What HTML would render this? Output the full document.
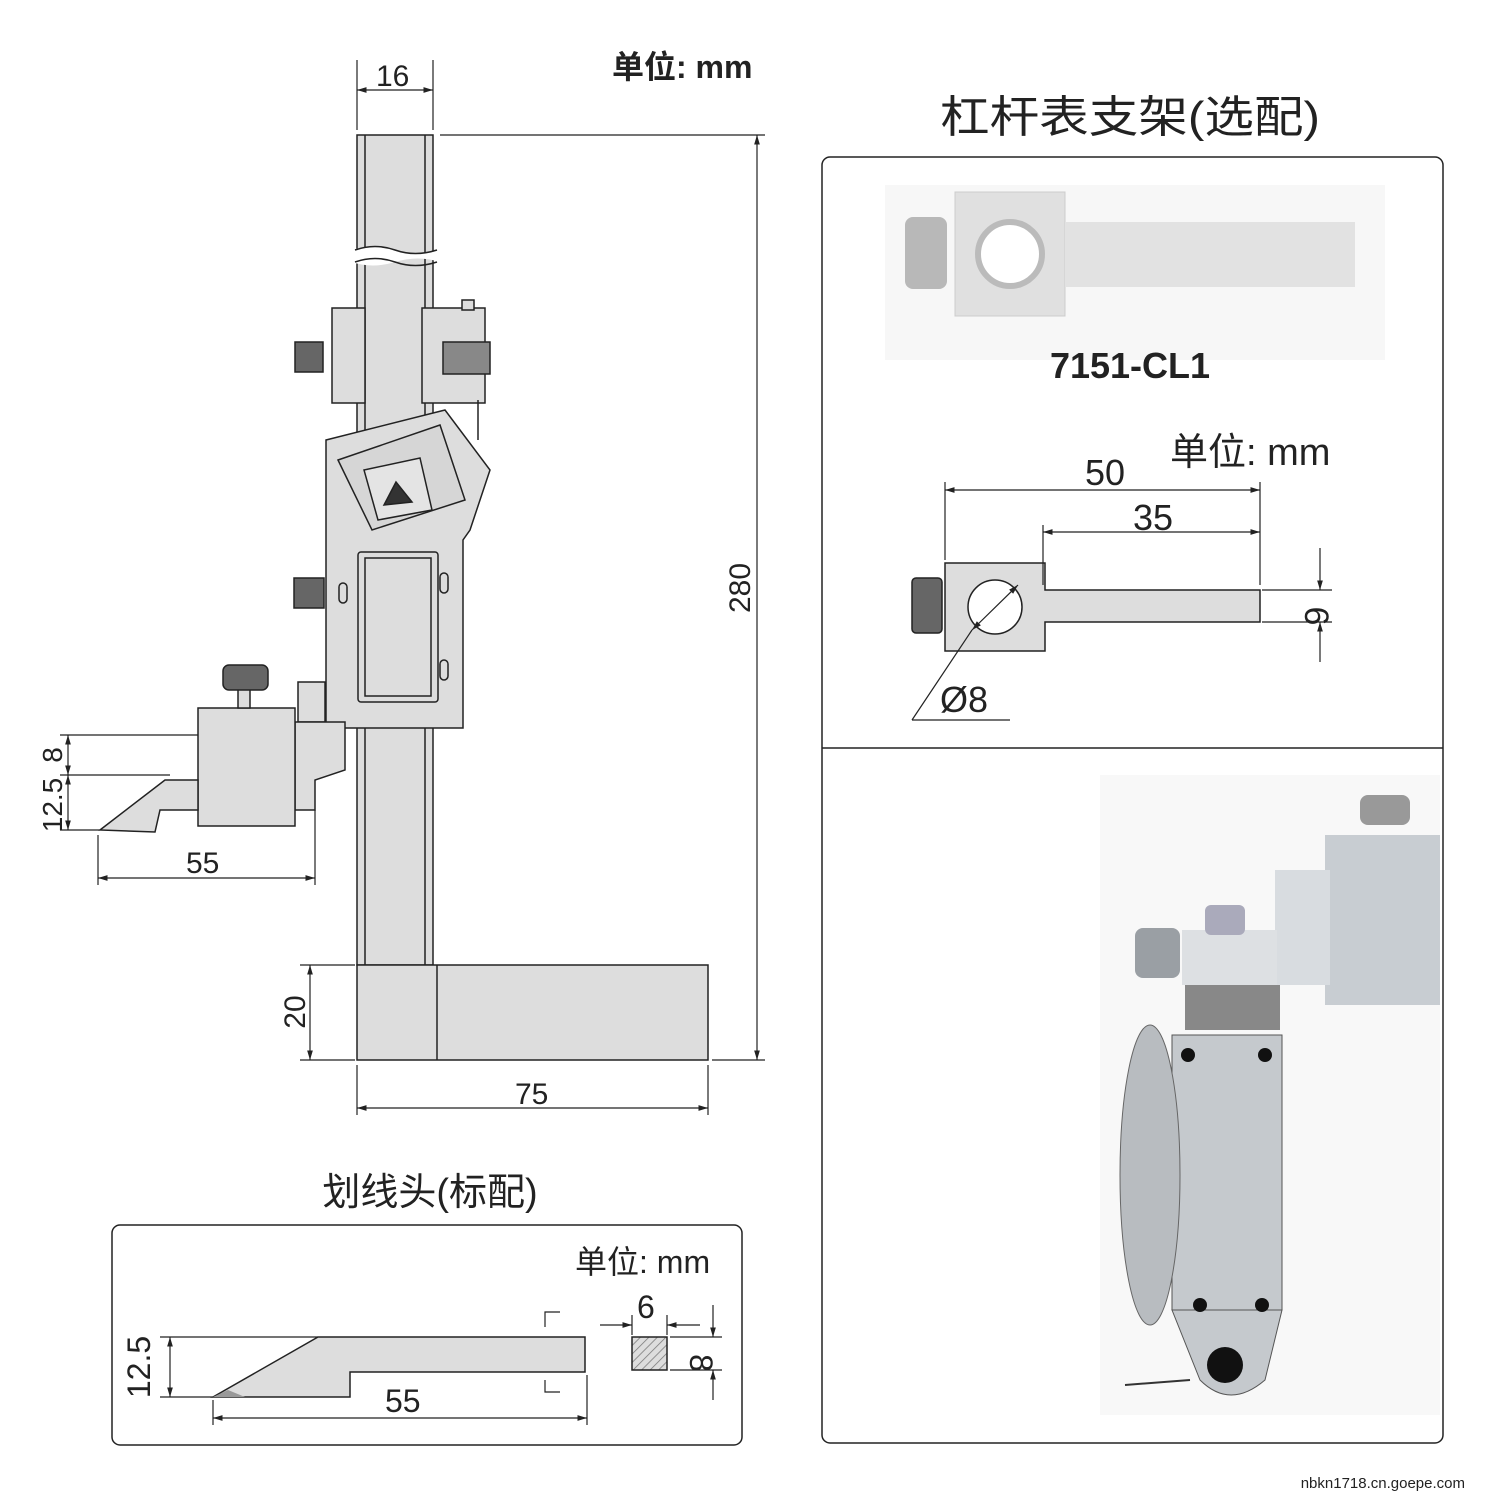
<!DOCTYPE html>
<html><head><meta charset="utf-8"><style>
body{margin:0;background:#fff}
svg{display:block}
text{font-family:"Liberation Sans","Noto Sans CJK SC",sans-serif;fill:#222}
</style></head><body>
<svg width="1500" height="1500" viewBox="0 0 1500 1500" xmlns="http://www.w3.org/2000/svg">
<defs>
<marker id="a" viewBox="0 0 10 10" refX="10" refY="5" markerWidth="8" markerHeight="8" orient="auto-start-reverse"><path d="M0,2 L10,5 L0,8z" fill="#222"/></marker>
<pattern id="h" width="6" height="6" patternUnits="userSpaceOnUse" patternTransform="rotate(45)"><rect width="6" height="6" fill="#ddd"/><line x1="0" y1="0" x2="0" y2="6" stroke="#777" stroke-width="1.5"/></pattern>
</defs>
<g stroke="#222" stroke-width="1.5" fill="#ddd">
<rect x="357" y="135" width="76" height="830"/>
<line x1="365" y1="135" x2="365" y2="965" fill="none"/>
<line x1="425" y1="135" x2="425" y2="965" fill="none"/>
<path d="M352,250 Q375,243 395,250 T440,250 L440,262 Q418,255 395,262 T352,262z" fill="#fff" stroke="none"/>
<path d="M355,250 Q375,243 395,250 T437,250" fill="none"/>
<path d="M355,262 Q375,255 395,262 T437,262" fill="none"/>
<rect x="357" y="965" width="351" height="95"/>
<line x1="437" y1="965" x2="437" y2="1060"/>
<rect x="332" y="308" width="33" height="95"/>
<rect x="422" y="308" width="63" height="95"/>
<rect x="462" y="300" width="12" height="10"/>
<rect x="295" y="342" width="28" height="30" fill="#666"/>
<rect x="443" y="342" width="47" height="32" fill="#888"/>
<line x1="478" y1="400" x2="478" y2="440"/>
<path d="M326,440 L445,410 L490,470 L470,530 L463,540 L463,728 L326,728z"/>
<path d="M338,460 L440,425 L465,500 L372,530z" fill="#d6d6d6"/>
<path d="M364,470 L420,458 L432,510 L378,520z" fill="#e4e4e4"/>
<path d="M384,505 L396,482 L412,502z" fill="#333"/>
<rect x="358" y="552" width="80" height="150" rx="3"/>
<rect x="365" y="558" width="66" height="138" fill="#ddd"/>
<rect x="339" y="583" width="8" height="20" rx="4"/>
<rect x="440" y="573" width="8" height="20" rx="4"/>
<rect x="440" y="660" width="8" height="20" rx="4"/>
<rect x="294" y="578" width="30" height="30" fill="#666"/>
<rect x="298" y="682" width="27" height="40"/>
<path d="M295,722 L345,722 L345,770 L315,780 L315,810 L295,810z"/>
<rect x="198" y="708" width="97" height="118"/>
<rect x="238" y="685" width="12" height="23"/>
<rect x="223" y="665" width="45" height="25" rx="6" fill="#666"/>
<path d="M198,780 L165,780 L100,830 L155,832 L160,810 L198,810z"/>
</g>
<g stroke="#222" stroke-width="1.2" fill="none">
<line x1="357" y1="60" x2="357" y2="130"/><line x1="433" y1="60" x2="433" y2="130"/>
<line x1="357" y1="90" x2="433" y2="90" marker-start="url(#a)" marker-end="url(#a)"/>
<line x1="440" y1="135" x2="765" y2="135"/><line x1="712" y1="1060" x2="765" y2="1060"/>
<line x1="757" y1="135" x2="757" y2="1060" marker-start="url(#a)" marker-end="url(#a)"/>
<line x1="300" y1="965" x2="355" y2="965"/><line x1="300" y1="1060" x2="355" y2="1060"/>
<line x1="310" y1="965" x2="310" y2="1060" marker-start="url(#a)" marker-end="url(#a)"/>
<line x1="357" y1="1065" x2="357" y2="1115"/><line x1="708" y1="1065" x2="708" y2="1115"/>
<line x1="357" y1="1108" x2="708" y2="1108" marker-start="url(#a)" marker-end="url(#a)"/>
<line x1="60" y1="735" x2="198" y2="735"/><line x1="60" y1="775" x2="170" y2="775"/><line x1="60" y1="830" x2="100" y2="830"/>
<line x1="68" y1="735" x2="68" y2="775" marker-start="url(#a)" marker-end="url(#a)"/>
<line x1="68" y1="775" x2="68" y2="830" marker-start="url(#a)" marker-end="url(#a)"/>
<line x1="98" y1="835" x2="98" y2="885"/><line x1="315" y1="810" x2="315" y2="885"/>
<line x1="98" y1="878" x2="315" y2="878" marker-start="url(#a)" marker-end="url(#a)"/>
</g>
<text x="612" y="78" font-size="32" font-weight="bold" fill="#333">单位: mm</text>
<text x="376" y="86" font-size="30">16</text>
<text x="760" y="598" font-size="30" transform="rotate(-90 750 598)" text-anchor="middle">280</text>
<text x="305" y="1012" font-size="30" transform="rotate(-90 305 1012)" text-anchor="middle">20</text>
<text x="515" y="1104" font-size="30">75</text>
<text x="186" y="873" font-size="30">55</text>
<text x="62" y="755" font-size="28" transform="rotate(-90 62 755)" text-anchor="middle">8</text>
<text x="62" y="805" font-size="28" transform="rotate(-90 62 805)" text-anchor="middle">12.5</text>
<text x="1130" y="132" font-size="44" text-anchor="middle" textLength="380" lengthAdjust="spacingAndGlyphs">杠杆表支架(选配)</text>
<rect x="822" y="157" width="621" height="1286" rx="8" fill="none" stroke="#222" stroke-width="1.5"/>
<line x1="822" y1="748" x2="1443" y2="748" stroke="#222" stroke-width="1.5"/>
<rect x="885" y="185" width="500" height="175" fill="#f7f7f7"/>
<rect x="955" y="192" width="110" height="124" fill="#e0e0e0" stroke="#ccc"/>
<rect x="1065" y="222" width="290" height="65" fill="#e2e2e2"/>
<circle cx="1010" cy="254" r="32" fill="#fff" stroke="#bbb" stroke-width="6"/>
<rect x="905" y="217" width="42" height="72" rx="8" fill="#b8b8b8"/>
<text x="1130" y="378" font-size="36" font-weight="bold" text-anchor="middle">7151-CL1</text>
<text x="1170" y="465" font-size="38">单位: mm</text>
<g stroke="#222" stroke-width="1.5" fill="#ddd">
<path d="M945,563 L1045,563 L1045,590 L1260,590 L1260,622 L1045,622 L1045,651 L945,651z"/>
<circle cx="995" cy="607" r="27" fill="#fff"/>
<rect x="912" y="578" width="30" height="55" rx="4" fill="#666"/>
</g>
<g stroke="#222" stroke-width="1.2" fill="none">
<line x1="945" y1="482" x2="945" y2="560"/><line x1="1260" y1="482" x2="1260" y2="585"/><line x1="1043" y1="525" x2="1043" y2="585"/>
<line x1="945" y1="490" x2="1260" y2="490" marker-start="url(#a)" marker-end="url(#a)"/>
<line x1="1043" y1="532" x2="1260" y2="532" marker-start="url(#a)" marker-end="url(#a)"/>
<line x1="1262" y1="590" x2="1332" y2="590"/><line x1="1262" y1="622" x2="1332" y2="622"/>
<line x1="1320" y1="548" x2="1320" y2="590" marker-end="url(#a)"/><line x1="1320" y1="662" x2="1320" y2="622" marker-end="url(#a)"/>
<line x1="1018" y1="585" x2="972" y2="630" marker-start="url(#a)" marker-end="url(#a)"/>
<line x1="972" y1="630" x2="912" y2="720"/><line x1="912" y1="720" x2="1010" y2="720"/>
</g>
<text x="1085" y="485" font-size="36">50</text>
<text x="1133" y="530" font-size="36">35</text>
<text x="1315" y="606" font-size="34" transform="rotate(90 1305 606)" text-anchor="middle">6</text>
<text x="940" y="712" font-size="36">Ø8</text>
<rect x="1100" y="775" width="340" height="640" fill="#f8f8f8"/>
<rect x="1325" y="835" width="115" height="170" fill="#c8cdd2"/>
<rect x="1275" y="870" width="55" height="115" fill="#d8dce0"/>
<rect x="1360" y="795" width="50" height="30" rx="8" fill="#999"/>
<rect x="1182" y="930" width="95" height="55" fill="#dde0e3"/>
<rect x="1135" y="928" width="45" height="50" rx="8" fill="#9a9fa4"/>
<rect x="1205" y="905" width="40" height="30" rx="6" fill="#aab"/>
<rect x="1185" y="985" width="95" height="45" fill="#888"/>
<rect x="1172" y="1035" width="110" height="275" fill="#c5c9cd" stroke="#555"/>
<path d="M1172,1310 L1282,1310 L1265,1380 Q1230,1410 1200,1380z" fill="#c5c9cd" stroke="#555"/>
<ellipse cx="1150" cy="1175" rx="30" ry="150" fill="#b8bcc0" stroke="#666"/>
<circle cx="1225" cy="1365" r="18" fill="#111"/>
<circle cx="1188" cy="1055" r="7" fill="#111"/><circle cx="1265" cy="1055" r="7" fill="#111"/>
<circle cx="1200" cy="1305" r="7" fill="#111"/><circle cx="1262" cy="1305" r="7" fill="#111"/>
<line x1="1125" y1="1385" x2="1190" y2="1380" stroke="#333" stroke-width="2"/>
<text x="1465" y="1488" font-size="15" font-family="Liberation Mono" text-anchor="end">nbkn1718.cn.goepe.com</text>
<text x="430" y="1205" font-size="38" text-anchor="middle">划线头(标配)</text>
<rect x="112" y="1225" width="630" height="220" rx="8" fill="none" stroke="#222" stroke-width="1.5"/>
<text x="575" y="1273" font-size="32">单位: mm</text>
<path d="M213,1397 L318,1337 L585,1337 L585,1372 L350,1372 L350,1397z" fill="#ddd" stroke="#222" stroke-width="1.5"/>
<path d="M228,1390 L245,1397 L213,1397z" fill="#999"/>
<rect x="632" y="1337" width="35" height="33" fill="url(#h)" stroke="#222" stroke-width="1.5"/>
<g stroke="#222" stroke-width="1.2" fill="none">
<path d="M545,1327 L545,1312 L560,1312 M545,1380 L545,1392 L560,1392"/>
<line x1="160" y1="1337" x2="318" y2="1337"/><line x1="160" y1="1397" x2="213" y2="1397"/>
<line x1="170" y1="1337" x2="170" y2="1397" marker-start="url(#a)" marker-end="url(#a)"/>
<line x1="213" y1="1400" x2="213" y2="1425"/><line x1="587" y1="1375" x2="587" y2="1425"/>
<line x1="213" y1="1418" x2="587" y2="1418" marker-start="url(#a)" marker-end="url(#a)"/>
<line x1="632" y1="1315" x2="632" y2="1335"/><line x1="667" y1="1315" x2="667" y2="1335"/>
<line x1="600" y1="1325" x2="632" y2="1325" marker-end="url(#a)"/><line x1="700" y1="1325" x2="667" y2="1325" marker-end="url(#a)"/>
<line x1="670" y1="1337" x2="722" y2="1337"/><line x1="670" y1="1370" x2="722" y2="1370"/>
<line x1="713" y1="1305" x2="713" y2="1337" marker-end="url(#a)"/><line x1="713" y1="1400" x2="713" y2="1370" marker-end="url(#a)"/>
</g>
<text x="150" y="1367" font-size="32" transform="rotate(-90 150 1367)" text-anchor="middle">12.5</text>
<text x="385" y="1412" font-size="32">55</text>
<text x="637" y="1318" font-size="32">6</text>
<text x="700" y="1353" font-size="32" transform="rotate(90 690 1353)" text-anchor="middle">8</text>
</svg>
</body></html>
